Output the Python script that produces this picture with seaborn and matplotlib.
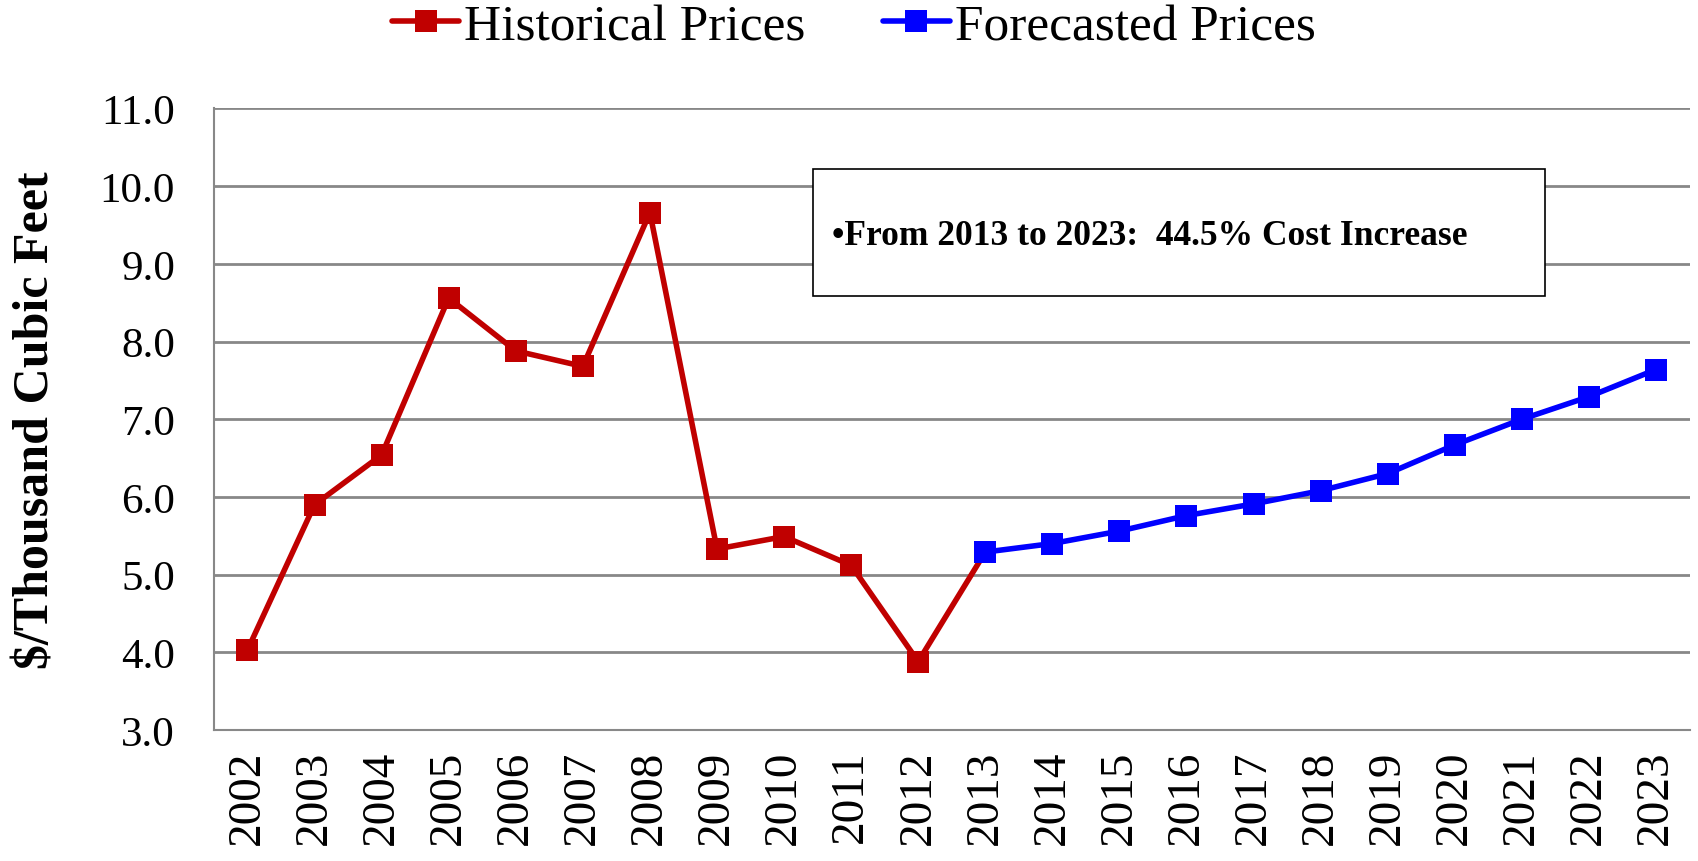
import matplotlib
matplotlib.use("Agg")
import matplotlib.pyplot as plt
import seaborn as sns
import pandas as pd
from matplotlib.ticker import MultipleLocator, FixedLocator
from matplotlib.patches import Rectangle
from matplotlib.lines import Line2D

hist_years = list(range(2002, 2014))
hist_prices = [4.03, 5.90, 6.54, 8.56, 7.88, 7.68, 9.66, 5.33, 5.49, 5.12, 3.88, 5.29]
fc_years = list(range(2013, 2024))
fc_prices = [5.29, 5.40, 5.56, 5.76, 5.91, 6.08, 6.30, 6.67, 7.00, 7.29, 7.64]
year_labels = [str(y) for y in range(2002, 2024)]
note_text = "\u2022From 2013 to 2023:  44.5% Cost Increase"
ylabel = "$/Thousand Cubic Feet"

df = pd.concat([
    pd.DataFrame({"Year": hist_years, "Price": hist_prices, "Series": "Historical Prices"}),
    pd.DataFrame({"Year": fc_years, "Price": fc_prices, "Series": "Forecasted Prices"}),
])

sns.set_style("white")
plt.rcParams['font.family'] = ['Liberation Serif', 'DejaVu Serif']
plt.rcParams['text.color'] = 'black'
plt.rcParams['xtick.color'] = 'black'
plt.rcParams['ytick.color'] = 'black'
plt.rcParams['axes.labelcolor'] = 'black'

fig = plt.figure(figsize=(16.98, 8.62), dpi=100)
ax = fig.add_axes([0.126, 0.152, 0.869, 0.721])

palette = {"Historical Prices": "#C00000", "Forecasted Prices": "#0000FF"}
sns.lineplot(data=df, x="Year", y="Price", hue="Series", palette=palette,
             marker="s", markersize=16, markeredgewidth=0, linewidth=4,
             ax=ax, legend=False, sort=False)

ax.set_xlim(2001.5, 2023.5)
ax.set_ylim(3.0, 11.0)
ax.yaxis.set_major_locator(MultipleLocator(1.0))
ax.set_yticklabels([f"{v:.1f}" for v in ax.get_yticks()], fontsize=31)
ax.set_xticks(range(2002, 2024))
ax.set_xticklabels(year_labels, rotation=90, fontsize=34)
ax.xaxis.set_minor_locator(FixedLocator([y + 0.5 for y in range(2001, 2024)]))
ax.tick_params(axis='x', which='major', length=0, pad=14)
ax.tick_params(axis='x', which='minor', length=14, width=1.5, color="#888888")
ax.tick_params(axis='y', which='major', length=14, width=1.5, color="#888888", pad=14)
ax.grid(axis='y', color="#888888", linewidth=2)
ax.set_axisbelow(True)
for s in ['top', 'right']:
    ax.spines[s].set_visible(False)
for s in ['left', 'bottom']:
    ax.spines[s].set_color("#888888")
    ax.spines[s].set_linewidth(1.5)
ax.set_xlabel("")
ax.set_ylabel(ylabel, fontsize=36, fontweight='bold')
ax.yaxis.set_label_coords(-0.105, 0.5)

ax.add_patch(Rectangle((0.406, 0.698), 0.496, 0.204, transform=ax.transAxes,
                       facecolor='white', edgecolor='black', linewidth=1.2, zorder=3))
ax.text(0.419, 0.795, note_text, transform=ax.transAxes, fontsize=25.5, fontweight='bold',
        va='center', ha='left', zorder=4)

handles = [Line2D([], [], color="#C00000", marker='s', markersize=16, linewidth=4, markeredgewidth=0),
           Line2D([], [], color="#0000FF", marker='s', markersize=16, linewidth=4, markeredgewidth=0)]
fig.legend(handles, ["Historical Prices", "Forecasted Prices"], loc='center',
           bbox_to_anchor=(0.503, 0.968), ncol=2, frameon=False, fontsize=37,
           handlelength=1.3, handletextpad=0.1, columnspacing=1.5)

fig.savefig("out.png", dpi=100)
